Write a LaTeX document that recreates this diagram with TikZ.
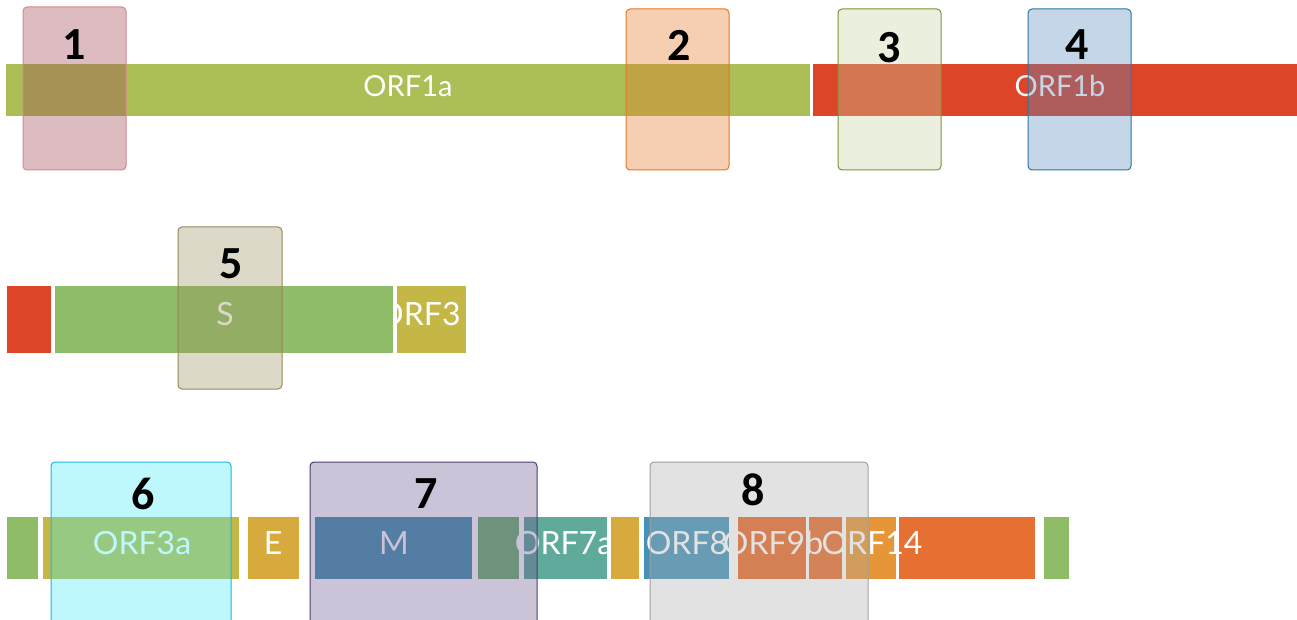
\documentclass[tikz,border=0pt]{standalone}
\usepackage{fontspec}
\newfontfamily\lato{Lato}
\newfontfamily\carl{Carlito}
\definecolor{c1a}{RGB}{172,190,86}
\definecolor{c1b}{RGB}{222,68,40}
\definecolor{cS}{RGB}{143,188,103}
\definecolor{cY}{RGB}{196,183,70}
\definecolor{cE}{RGB}{214,170,60}
\definecolor{cM}{RGB}{71,147,175}
\definecolor{cDG}{RGB}{112,182,116}
\definecolor{cT}{RGB}{95,170,155}
\definecolor{cEight}{RGB}{69,146,185}
\definecolor{cNine}{RGB}{234,105,38}
\definecolor{cOa}{RGB}{234,108,43}
\definecolor{cOb}{RGB}{230,150,55}
\definecolor{cOc}{RGB}{230,112,50}
\definecolor{bA}{RGB}{155,64,75}
\definecolor{bB}{RGB}{229,115,35}
\definecolor{bC}{RGB}{198,212,161}
\definecolor{bD}{RGB}{89,138,189}
\definecolor{bE}{RGB}{155,146,98}
\definecolor{bF}{RGB}{69,235,246}
\definecolor{bG}{RGB}{106,84,141}
\definecolor{bH}{RGB}{172,172,172}
\definecolor{dA}{RGB}{215,135,140}
\definecolor{dB}{RGB}{230,120,30}
\definecolor{dC}{RGB}{120,150,50}
\definecolor{dD}{RGB}{40,120,160}
\definecolor{dE}{RGB}{150,135,90}
\definecolor{dF}{RGB}{30,180,230}
\definecolor{dG}{RGB}{80,60,110}
\definecolor{dH}{RGB}{160,160,160}
\tikzset{
  lbl/.style={inner sep=0pt, text=white, font=\lato\fontsize{32}{32}\selectfont},
  lblsmall/.style={lbl, font=\lato\fontsize{29}{29}\selectfont},
  digit/.style={inner sep=0pt, text=black, font=\carl\bfseries\fontsize{46}{46}\selectfont},
  hbox/.style={rounded corners=4pt, line width=1pt, fill opacity=0.35},
}
\begin{document}
\begin{tikzpicture}[x=1pt,y=-1pt]
\useasboundingbox (0,0) rectangle (1297,620);
\clip (0,0) rectangle (1297,620);
% row 1
\fill[c1a] (6,64) rectangle (810,116);
\fill[c1b] (813,64) rectangle (1297,116);
\node[lblsmall] (l1a) at (408,86) {ORF1a};
\node[lblsmall] (l1b) at (1060,86) {ORF1b};
% row 2
\fill[c1b] (7,286) rectangle (51,353);
\fill[cS] (55,286) rectangle (393,353);
\fill[cY] (397,286) rectangle (466,353);
\node[lbl] (lS) at (225,314) {S};
\begin{scope}
\clip (396,280) rectangle (466,360);
\node[lbl, anchor=west] (l3) at (378,314) {ORF3};
\end{scope}
% row 3
\fill[cS] (7,517) rectangle (38,579);
\fill[cY] (43,517) rectangle (239,579);
\fill[cE] (248,517) rectangle (299,579);
\fill[cM] (315,517) rectangle (472,579);
\fill[cDG] (478,517) rectangle (519,579);
\fill[cT] (524,517) rectangle (607,579);
\fill[cE] (611,517) rectangle (639,579);
\fill[cEight] (644,517) rectangle (729,579);
\fill[cNine] (738,517) rectangle (806,579);
\fill[cOa] (809,517) rectangle (842,579);
\fill[cOb] (846,517) rectangle (896,579);
\fill[cOc] (899,517) rectangle (1035,579);
\fill[cS] (1044,517) rectangle (1069,579);
\node[lbl] (l3a) at (142,543) {ORF3a};
\node[lbl] (lE) at (273,543) {E};
\node[lbl] (lM) at (394,543) {M};
\begin{scope}
\clip (500,510) rectangle (607,590);
\node[lbl] (l7a) at (564,543) {ORF7a};
\end{scope}
\node[lbl] (l8) at (687,543) {ORF8};
\node[lbl] (l9b) at (773,543) {ORF9b};
\node[lbl] (l14) at (872,543) {ORF14};
% highlight boxes
\draw[hbox, fill=bA, draw=dA] (23,7) rectangle (126,170);
\draw[hbox, fill=bB, draw=dB] (626,9) rectangle (729,170);
\draw[hbox, fill=bC, draw=dC] (838,9) rectangle (941,170);
\draw[hbox, fill=bD, draw=dD] (1028,9) rectangle (1131,170);
\draw[hbox, fill=bE, draw=dE] (178,227) rectangle (282,389);
\draw[hbox, fill=bF, draw=dF] (51,462) rectangle (231,630);
\draw[hbox, fill=bG, draw=dG] (310,462) rectangle (537,630);
\draw[hbox, fill=bH, draw=dH] (650,462) rectangle (868,630);
% numbers
\node[digit] (n1) at (74,45) {1};
\node[digit] (n2) at (679,45) {2};
\node[digit] (n3) at (889,48) {3};
\node[digit] (n4) at (1077,45) {4};
\node[digit] (n5) at (231,264) {5};
\node[digit] (n6) at (143,494) {6};
\node[digit] (n7) at (426,494) {7};
\node[digit] (n8) at (753,490) {8};
\end{tikzpicture}
\end{document}
